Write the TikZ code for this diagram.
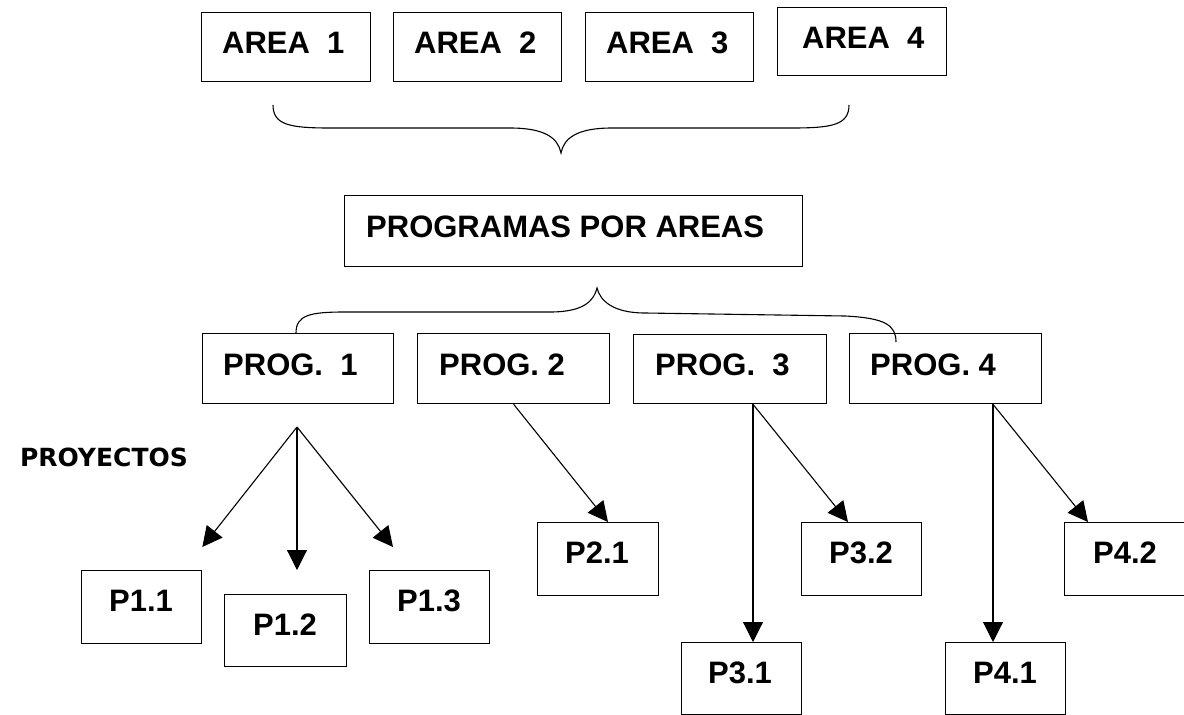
\documentclass[tikz,border=0pt]{standalone}
\usepackage{fontspec}
\setmainfont{Liberation Sans}
\newfontfamily\proyfont{DejaVu Sans}
\usetikzlibrary{arrows.meta,calc}
\begin{document}
\begin{tikzpicture}[x=1pt,y=-1pt,
  box/.style={draw, line width=1.3pt, anchor=north west, inner sep=0pt},
  lbl/.style={font=\fontsize{31}{36}\selectfont\bfseries, inner sep=0pt, anchor=base west},
  arr/.style={line width=1.1pt, -{Triangle[length=20pt,width=20pt]}},
  brace/.style={line width=1.1pt}]
\useasboundingbox (0,0) rectangle (1184,715);
% areas
\node[box, minimum width=169pt, minimum height=69pt, label={[lbl,xshift=21pt,yshift=-41pt]north west:AREA~~1}] (a1) at (201,12) {};
\node[box, minimum width=168pt, minimum height=69pt, label={[lbl,xshift=21pt,yshift=-41pt]north west:AREA~~2}] (a2) at (393,12) {};
\node[box, minimum width=168pt, minimum height=69pt, label={[lbl,xshift=21pt,yshift=-41pt]north west:AREA~~3}] (a3) at (585,12) {};
\node[box, minimum width=169pt, minimum height=68pt, label={[lbl,xshift=25pt,yshift=-41pt]north west:AREA~~4}] (a4) at (777,7) {};
% programas
\node[box, minimum width=458pt, minimum height=71pt, label={[lbl,xshift=22pt,yshift=-42pt]north west:PROGRAMAS POR AREAS}] (prog) at (344,195) {};
\node[box, minimum width=191pt, minimum height=70pt, label={[lbl,xshift=21pt,yshift=-42pt]north west:PROG.~~1}] (p1) at (202,333) {};
\node[box, minimum width=192pt, minimum height=70pt, label={[lbl,xshift=22pt,yshift=-42pt]north west:PROG.~2}] (p2) at (417,333) {};
\node[box, minimum width=193pt, minimum height=69pt, label={[lbl,xshift=22pt,yshift=-41pt]north west:PROG.~~3}] (p3) at (633,334) {};
\node[box, minimum width=192pt, minimum height=70pt, label={[lbl,xshift=21pt,yshift=-42pt]north west:PROG.~4}] (p4) at (849,333) {};
% proyectos
\node[font={\fontsize{25}{30}\proyfont\bfseries}, anchor=base east, inner sep=0pt] (proy) at (188,466) {PROYECTOS};
\node[box, minimum width=120pt, minimum height=73pt, label={[lbl,xshift=28pt,yshift=-41pt]north west:P1.1}] (q11) at (81,570) {};
\node[box, minimum width=122pt, minimum height=72pt, label={[lbl,xshift=29pt,yshift=-41pt]north west:P1.2}] (q12) at (224,594) {};
\node[box, minimum width=120pt, minimum height=73pt, label={[lbl,xshift=28pt,yshift=-41pt]north west:P1.3}] (q13) at (369,570) {};
\node[box, minimum width=121pt, minimum height=73pt, label={[lbl,xshift=28pt,yshift=-41pt]north west:P2.1}] (q21) at (537,522) {};
\node[box, minimum width=120pt, minimum height=72pt, label={[lbl,xshift=27pt,yshift=-41pt]north west:P3.1}] (q31) at (681,642) {};
\node[box, minimum width=120pt, minimum height=73pt, label={[lbl,xshift=28pt,yshift=-41pt]north west:P3.2}] (q32) at (801,522) {};
\node[box, minimum width=120pt, minimum height=72pt, label={[lbl,xshift=28pt,yshift=-41pt]north west:P4.1}] (q41) at (945,642) {};
\node[box, minimum width=121pt, minimum height=73pt, label={[lbl,xshift=29pt,yshift=-41pt]north west:P4.2}] (q42) at (1064,522) {};
% braces
\coordinate (b1l) at (273,105);
\coordinate (b1t) at (561,153);
\coordinate (b1r) at (849,105);
\draw[brace] (b1l) .. controls (273,125) and (290,128) .. (330,128) -- (510,128)
  .. controls (545,128) and (558,138) .. (b1t)
  .. controls (564,138) and (577,128) .. (612,128) -- (792,128)
  .. controls (832,128) and (849,125) .. (b1r);
\coordinate (b2l) at ($(p1.north west)+(94,0)$);
\coordinate (b2t) at (597,288);
\coordinate (b2r) at (896,342);
\draw[brace] (b2l) .. controls (296,315) and (310,312) .. (345,312) -- (550,312)
  .. controls (585,312) and (594,300) .. (b2t)
  .. controls (600,300) and (612,313) .. (645,313) -- (845,316)
  .. controls (885,318) and (896,325) .. (b2r);
% arrows
\coordinate (f1) at (297,427);
\draw[arr] (f1) -- ($(q11.north east)+(0,-23)$);
\draw[arr] (f1) -- ($(q12.north west)+(73,-24)$);
\draw[arr] (f1) -- ($(q13.north west)+(24,-23)$);
\draw[arr] (p2.south) -- ($(q21.north west)+(71,0)$);
\coordinate (f3) at ($(p3.south west)+(120,0)$);
\draw[arr] (f3) -- ($(q31.north west)+(72,0)$);
\draw[arr] (f3) -- ($(q32.north west)+(47,0)$);
\coordinate (f4) at ($(p4.south west)+(144,0)$);
\draw[arr] (f4) -- ($(q41.north west)+(48,0)$);
\draw[arr] (f4) -- ($(q42.north west)+(24,0)$);
\end{tikzpicture}
\end{document}
